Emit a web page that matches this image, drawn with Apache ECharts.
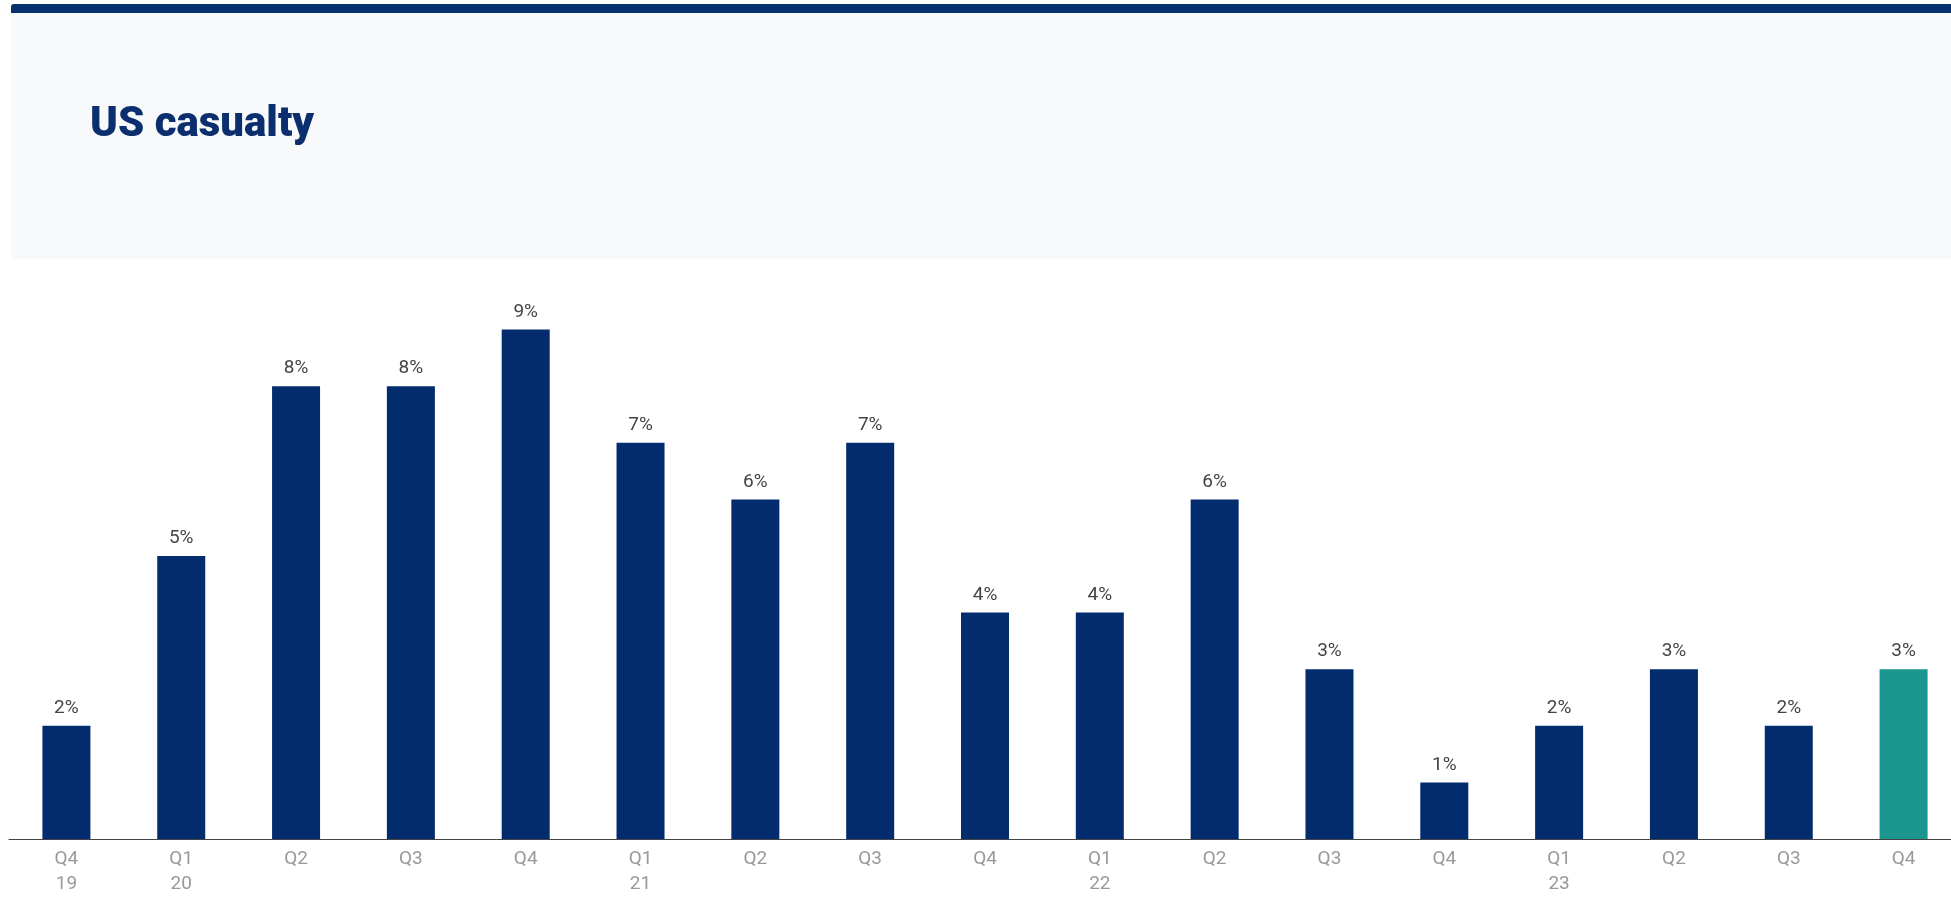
<!DOCTYPE html>
<html>
<head>
<meta charset="utf-8">
<script src="https://cdn.jsdelivr.net/npm/echarts@6/dist/echarts.min.js"></script>
<style>
  html, body { margin: 0; padding: 0; background: #fff; overflow: hidden; }
  /* the chart runs slightly past the right edge, as in the original */
  #chart { width: 1975px; height: 897px; }
</style>
</head>
<body>
<div id="chart"></div>
<script>
// quarter labels (year shown under the first quarter of each year)
const quarters = ["Q4\n19", "Q1\n20", "Q2", "Q3", "Q4", "Q1\n21", "Q2", "Q3", "Q4",
  "Q1\n22", "Q2", "Q3", "Q4", "Q1\n23", "Q2", "Q3", "Q4"];
// rate change, %
const rateChange = [2, 5, 8, 8, 9, 7, 6, 7, 4, 4, 6, 3, 1, 2, 3, 2, 3];
const latestIndex = rateChange.length - 1;

const NAVY = "#032c6f";
const TEAL = "#1a968f";

const chart = echarts.init(document.getElementById("chart"));

const option = {
  animation: false,
  graphic: [
    // header panel
    { type: "rect", left: 11, top: 10, shape: { width: 1970, height: 249 }, style: { fill: "#f8f9fb" }, z: -10 },
    // dark strip on top of the panel
    { type: "rect", left: 11, top: 4, shape: { width: 1970, height: 9, r: [3, 0, 0, 0] }, style: { fill: "#06306f" }, z: -9 },
    {
      type: "text", left: 90, top: 104,
      style: {
        text: "US casualty",
        font: "900 42px Roboto, 'Noto Sans', sans-serif",
        fill: "#0b2f6e"
      }
    }
  ],
  grid: { left: 9, top: 273, width: 1952, height: 568 },
  xAxis: {
    type: "category",
    data: quarters,
    axisLine: { lineStyle: { color: "#444", width: 1 } },
    axisTick: { show: false },
    axisLabel: {
      color: "#999",
      fontFamily: "Roboto",
      fontSize: 19,
      lineHeight: 25,
      margin: 8,
      interval: 0
    }
  },
  yAxis: {
    type: "value",
    min: 0,
    max: 10,
    show: false,
    splitLine: { show: false }
  },
  series: [{
    type: "bar",
    barWidth: 48,
    data: rateChange.map((v, i) => ({
      value: v,
      itemStyle: { color: i === latestIndex ? TEAL : NAVY }
    })),
    label: {
      show: true,
      position: "top",
      distance: 8,
      formatter: "{c}%",
      color: "#444",
      fontFamily: "Roboto",
      fontSize: 19
    }
  }]
};

chart.setOption(option);
</script>
</body>
</html>
